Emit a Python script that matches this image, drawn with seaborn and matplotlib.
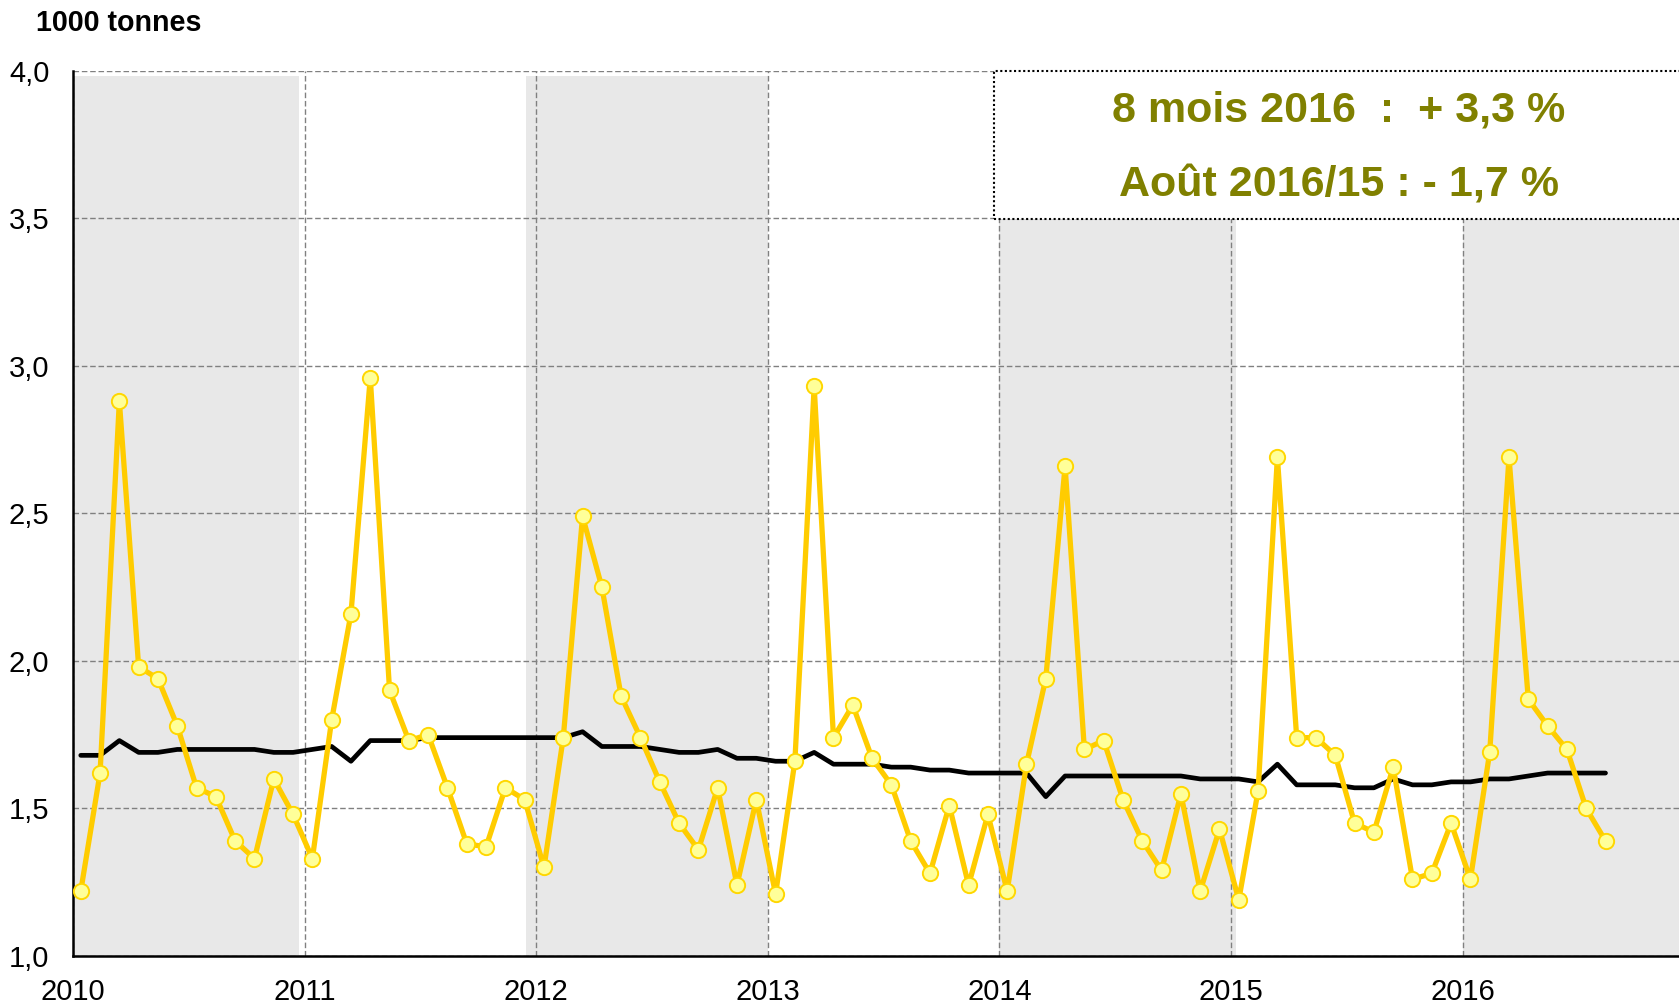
import numpy as np
import pandas as pd
import seaborn as sns
import matplotlib.pyplot as plt
from matplotlib.patches import Rectangle

# Monthly values, Jan 2010 -> Aug 2016 (1000 tonnes)
monthly = [
    1.22, 1.62, 2.88, 1.98, 1.94, 1.78, 1.57, 1.54, 1.39, 1.33, 1.60, 1.48,  # 2010
    1.33, 1.80, 2.16, 2.96, 1.90, 1.73, 1.75, 1.57, 1.38, 1.37, 1.57, 1.53,  # 2011
    1.30, 1.74, 2.49, 2.25, 1.88, 1.74, 1.59, 1.45, 1.36, 1.57, 1.24, 1.53,  # 2012
    1.21, 1.66, 2.93, 1.74, 1.85, 1.67, 1.58, 1.39, 1.28, 1.51, 1.24, 1.48,  # 2013
    1.22, 1.65, 1.94, 2.66, 1.70, 1.73, 1.53, 1.39, 1.29, 1.55, 1.22, 1.43,  # 2014
    1.19, 1.56, 2.69, 1.74, 1.74, 1.68, 1.45, 1.42, 1.64, 1.26, 1.28, 1.45,  # 2015
    1.26, 1.69, 2.69, 1.87, 1.78, 1.70, 1.50, 1.39,                          # 2016
]

# Moving average (black line)
moyenne = [
    1.68, 1.68, 1.73, 1.69, 1.69, 1.70, 1.70, 1.70, 1.70, 1.70, 1.69, 1.69,
    1.70, 1.71, 1.66, 1.73, 1.73, 1.73, 1.74, 1.74, 1.74, 1.74, 1.74, 1.74,
    1.74, 1.74, 1.76, 1.71, 1.71, 1.71, 1.70, 1.69, 1.69, 1.70, 1.67, 1.67,
    1.66, 1.66, 1.69, 1.65, 1.65, 1.65, 1.64, 1.64, 1.63, 1.63, 1.62, 1.62,
    1.62, 1.62, 1.54, 1.61, 1.61, 1.61, 1.61, 1.61, 1.61, 1.61, 1.60, 1.60,
    1.60, 1.59, 1.65, 1.58, 1.58, 1.58, 1.57, 1.57, 1.60, 1.58, 1.58, 1.59,
    1.59, 1.60, 1.60, 1.61, 1.62, 1.62, 1.62, 1.62,
]

years = [2010, 2011, 2012, 2013, 2014, 2015, 2016]
# gray background bands (start, end) in decimal years
shaded_spans = [(2010.0, 2010.976), (2011.955, 2013.0), (2014.0, 2015.02), (2016.0, 2017.0)]
y_ticks = [1.0, 1.5, 2.0, 2.5, 3.0, 3.5, 4.0]
box_lines = ["8 mois 2016  :  + 3,3 %", "Août 2016/15 : - 1,7 %"]

# x position of each month (decimal year)
x_pos = 2010 + (np.arange(len(monthly)) + 0.4) / 12
df = pd.DataFrame({"x": x_pos, "mensuel": monthly, "moyenne": moyenne})

sns.set_style("white")
plt.rcParams["font.family"] = ["Liberation Sans", "DejaVu Sans"]

fig = plt.figure(figsize=(16.79, 10.06), dpi=100)
ax = fig.add_axes([0.0435, 0.0497, 0.9565, 0.88])

for a, b in shaded_spans:
    ax.axvspan(a, b, ymin=0, ymax=0.994, color="#E8E8E8", lw=0, zorder=0)

sns.lineplot(data=df, x="x", y="moyenne", ax=ax, color="black", lw=3.4, zorder=3)
sns.lineplot(data=df, x="x", y="mensuel", ax=ax, color="#FFCC00", lw=3.8,
             marker="o", markersize=11, markerfacecolor="#FFFF99",
             markeredgecolor="#FFD700", markeredgewidth=1.4, zorder=4)

ax.set_xlim(2010, 2016.934)
ax.set_ylim(1.0, 4.0)
ax.set_xticks(years)
ax.set_xticklabels([str(y) for y in years], fontsize=21, color="black")
ax.set_yticks(y_ticks)
ax.set_yticklabels([f"{v:.1f}".replace(".", ",") for v in y_ticks], fontsize=21, color="black")
ax.set_xlabel("")
ax.set_ylabel("")

ax.grid(True, color="#808080", linestyle=(0, (4, 2)), lw=1.0)
ax.set_axisbelow(True)
for s in ["top", "right"]:
    ax.spines[s].set_visible(False)
for s in ["left", "bottom"]:
    ax.spines[s].set_color("black")
    ax.spines[s].set_linewidth(1.8)
ax.tick_params(axis="both", direction="out", length=6, width=1.5, color="black")
ax.tick_params(axis="y", pad=11)
ax.tick_params(axis="x", pad=10)

# annotation box
ax.add_patch(Rectangle((0.5735, 0.832), 0.43, 0.168, transform=ax.transAxes,
                       facecolor="white", edgecolor="black", lw=1.5,
                       linestyle=(0, (1, 1.2)), zorder=5, clip_on=False))
ax.text(0.788, 0.955, box_lines[0], transform=ax.transAxes, ha="center", va="center",
        fontsize=31, fontweight="bold", color="#808000", zorder=6)
ax.text(0.788, 0.870, box_lines[1], transform=ax.transAxes, ha="center", va="center",
        fontsize=31, fontweight="bold", color="#808000", zorder=6)

fig.text(0.0214, 0.969, "1000 tonnes", fontsize=20.6, fontweight="bold",
         ha="left", va="baseline", color="black")

fig.savefig("out.png", dpi=100)
